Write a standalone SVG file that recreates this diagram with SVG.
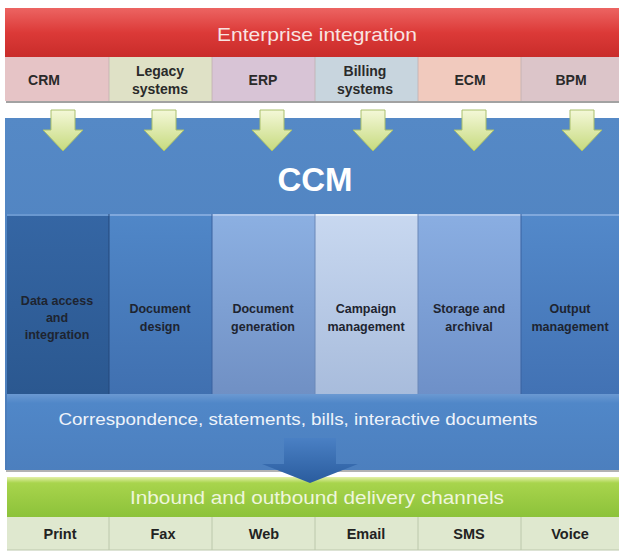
<svg xmlns="http://www.w3.org/2000/svg" width="619" height="552" viewBox="0 0 619 552">
<defs>
<linearGradient id="gRed" x1="0" y1="0" x2="0" y2="1"><stop offset="0" stop-color="#ec6462"/><stop offset="0.5" stop-color="#dc3a38"/><stop offset="1" stop-color="#c92c2a"/></linearGradient>
<linearGradient id="gBlue" x1="0" y1="0" x2="0" y2="1"><stop offset="0" stop-color="#5589c6"/><stop offset="1" stop-color="#4b7cba"/></linearGradient>
<linearGradient id="gBand" x1="0" y1="0" x2="0" y2="1"><stop offset="0" stop-color="#6b99d2"/><stop offset="0.12" stop-color="#5087c8"/><stop offset="1" stop-color="#4c7fbe"/></linearGradient>
<linearGradient id="c1" x1="0" y1="0" x2="0" y2="1"><stop offset="0" stop-color="#3566a4"/><stop offset="1" stop-color="#2b5890"/></linearGradient>
<linearGradient id="c2" x1="0" y1="0" x2="0" y2="1"><stop offset="0" stop-color="#5087c8"/><stop offset="1" stop-color="#4070b0"/></linearGradient>
<linearGradient id="c3" x1="0" y1="0" x2="0" y2="1"><stop offset="0" stop-color="#8cb0e2"/><stop offset="1" stop-color="#7090c4"/></linearGradient>
<linearGradient id="c4" x1="0" y1="0" x2="0" y2="1"><stop offset="0" stop-color="#c8d8f0"/><stop offset="1" stop-color="#a8bcdc"/></linearGradient>
<linearGradient id="c5" x1="0" y1="0" x2="0" y2="1"><stop offset="0" stop-color="#8aaee2"/><stop offset="1" stop-color="#6e90c8"/></linearGradient>
<linearGradient id="c6" x1="0" y1="0" x2="0" y2="1"><stop offset="0" stop-color="#5389ca"/><stop offset="1" stop-color="#4272b4"/></linearGradient>
<linearGradient id="gGreen" x1="0" y1="0" x2="0" y2="1"><stop offset="0" stop-color="#e4f0a8"/><stop offset="0.15" stop-color="#a8d44c"/><stop offset="1" stop-color="#8cc23a"/></linearGradient>
<linearGradient id="gArrow" x1="0" y1="0" x2="0" y2="1"><stop offset="0" stop-color="#f4f8d8"/><stop offset="1" stop-color="#c6da7e"/></linearGradient>
<linearGradient id="gBig" x1="0" y1="0" x2="0" y2="1"><stop offset="0" stop-color="#4a80c4"/><stop offset="1" stop-color="#2a5c9e"/></linearGradient>
<style>
.sub{font-family:"Liberation Sans",Arial,sans-serif;font-weight:bold;font-size:14px;fill:#2a2a2a;text-anchor:middle}
.col{font-family:"Liberation Sans",Arial,sans-serif;font-weight:bold;font-size:12.5px;fill:#1e2430;text-anchor:middle}
.bot{font-family:"Liberation Sans",Arial,sans-serif;font-weight:bold;font-size:14.5px;fill:#222;text-anchor:middle}
.hdr{font-family:"Liberation Sans",Arial,sans-serif;text-anchor:middle}
.sep{stroke:#ffffff;stroke-opacity:0.35;stroke-width:1}
.arr{fill:url(#gArrow);stroke:#a9bf6c;stroke-width:1}
</style>
</defs>

<!-- shadows -->
<rect x="6" y="60" width="613" height="43" fill="#555" opacity="0.55"/>
<rect x="6" y="120" width="613" height="352" fill="#666" opacity="0.5"/>

<g id="enterprise">
<rect x="5" y="8" width="614" height="49" fill="url(#gRed)"/>
<text class="hdr" x="317" y="41" font-size="19" fill="#f8e4e2" textLength="200" lengthAdjust="spacingAndGlyphs">Enterprise integration</text>
</g>
<g id="crm"><rect x="5" y="57" width="104" height="44" fill="#e6c4c6"/><text class="sub" x="44" y="85">CRM</text></g>
<g id="legacy"><rect x="109" y="57" width="103" height="44" fill="#dfe1c6"/><text class="sub" x="160" y="76">Legacy</text><text class="sub" x="160" y="94">systems</text></g>
<g id="erp"><rect x="212" y="57" width="103" height="44" fill="#d8c4d6"/><text class="sub" x="263" y="85">ERP</text></g>
<g id="billing"><rect x="315" y="57" width="103" height="44" fill="#c8d5de"/><text class="sub" x="365" y="76">Billing</text><text class="sub" x="365" y="94">systems</text></g>
<g id="ecm"><rect x="418" y="57" width="103" height="44" fill="#f1cabe"/><text class="sub" x="470" y="85">ECM</text></g>
<g id="bpm"><rect x="521" y="57" width="98" height="44" fill="#dcc5c9"/><text class="sub" x="571" y="85">BPM</text></g>

<g id="ccm">
<rect x="5" y="118" width="614" height="352" fill="url(#gBlue)"/>
<text class="hdr" x="315" y="191" font-size="33" font-weight="bold" fill="#ffffff">CCM</text>
</g>

<g id="data-access"><rect x="7" y="214" width="102" height="180" fill="url(#c1)"/><rect x="7" y="214" width="102" height="2" fill="#6a98d0"/><text class="col" x="57" y="305">Data access</text><text class="col" x="57" y="322">and</text><text class="col" x="57" y="339">integration</text></g>
<g id="doc-design"><rect x="109" y="214" width="103" height="180" fill="url(#c2)"/><rect x="109" y="214" width="103" height="2" fill="#80a8dc"/><text class="col" x="160" y="313">Document</text><text class="col" x="160" y="331">design</text></g>
<g id="doc-generation"><rect x="212" y="214" width="103" height="180" fill="url(#c3)"/><rect x="212" y="214" width="103" height="2" fill="#b0c8ec"/><text class="col" x="263" y="313">Document</text><text class="col" x="263" y="331">generation</text></g>
<g id="campaign"><rect x="315" y="214" width="103" height="180" fill="url(#c4)"/><rect x="315" y="214" width="103" height="2" fill="#e6eef8"/><text class="col" x="366" y="313">Campaign</text><text class="col" x="366" y="331">management</text></g>
<g id="storage"><rect x="418" y="214" width="103" height="180" fill="url(#c5)"/><rect x="418" y="214" width="103" height="2" fill="#b0c8ec"/><text class="col" x="469" y="313">Storage and</text><text class="col" x="469" y="331">archival</text></g>
<g id="output"><rect x="521" y="214" width="98" height="180" fill="url(#c6)"/><rect x="521" y="214" width="98" height="2" fill="#80a8dc"/><text class="col" x="570" y="313">Output</text><text class="col" x="570" y="331">management</text></g>
<g id="col-separators">
<line x1="109" y1="214" x2="109" y2="394" stroke="#24487a" stroke-width="1"/>
<line x1="212" y1="214" x2="212" y2="394" stroke="#3a62a0" stroke-width="1"/>
<line x1="315" y1="214" x2="315" y2="394" stroke="#6a88b8" stroke-width="1"/>
<line x1="418" y1="214" x2="418" y2="394" stroke="#6a88b8" stroke-width="1"/>
<line x1="521" y1="214" x2="521" y2="394" stroke="#3a62a0" stroke-width="1"/>
</g>

<g id="correspondence">
<rect x="7" y="394" width="612" height="76" fill="url(#gBand)"/>
<text class="hdr" x="298" y="425" font-size="17" fill="#eef3fa" textLength="479" lengthAdjust="spacingAndGlyphs">Correspondence, statements,  bills, interactive documents</text>
</g>

<g id="delivery">
<rect x="7" y="477" width="612" height="40" fill="url(#gGreen)"/>
<text class="hdr" x="317" y="504" font-size="18" fill="#eef6dc" textLength="374" lengthAdjust="spacingAndGlyphs">Inbound and outbound delivery channels</text>
</g>
<g id="print"><rect x="7" y="517" width="102" height="33" fill="#dfe8cf"/><text class="bot" x="60" y="539">Print</text></g>
<g id="fax"><rect x="109" y="517" width="103" height="33" fill="#dfe8cf"/><text class="bot" x="163" y="539">Fax</text></g>
<g id="web"><rect x="212" y="517" width="103" height="33" fill="#dfe8cf"/><text class="bot" x="264" y="539">Web</text></g>
<g id="email"><rect x="315" y="517" width="103" height="33" fill="#dfe8cf"/><text class="bot" x="366" y="539">Email</text></g>
<g id="sms"><rect x="418" y="517" width="103" height="33" fill="#dfe8cf"/><text class="bot" x="469" y="539">SMS</text></g>
<g id="voice"><rect x="521" y="517" width="98" height="33" fill="#dfe8cf"/><text class="bot" x="570" y="539">Voice</text></g>
<g id="row-separators" stroke="#bcc8ac" stroke-width="1">
<line x1="109" y1="517" x2="109" y2="550"/><line x1="212" y1="517" x2="212" y2="550"/><line x1="315" y1="517" x2="315" y2="550"/><line x1="418" y1="517" x2="418" y2="550"/><line x1="521" y1="517" x2="521" y2="550"/>
<line x1="7" y1="550" x2="619" y2="550"/>
</g>
<g id="sub-separators" stroke="#c0b0b0" stroke-width="0.8">
<line x1="109" y1="57" x2="109" y2="101"/><line x1="212" y1="57" x2="212" y2="101"/><line x1="315" y1="57" x2="315" y2="101"/><line x1="418" y1="57" x2="418" y2="101"/><line x1="521" y1="57" x2="521" y2="101"/>
</g>

<g id="connectors">
<path class="arr" d="M51,110 H75 V130 H83 L63,151 L43,130 H51 Z"/>
<path class="arr" d="M152,110 H176 V130 H184 L164,151 L144,130 H152 Z"/>
<path class="arr" d="M260,110 H284 V130 H292 L272,151 L252,130 H260 Z"/>
<path class="arr" d="M361,110 H385 V130 H393 L373,151 L353,130 H361 Z"/>
<path class="arr" d="M462,110 H486 V130 H494 L474,151 L454,130 H462 Z"/>
<path class="arr" d="M570,110 H594 V130 H602 L582,151 L562,130 H570 Z"/>
<path d="M284,438 H336 V464 H358 L310,483 L262,464 H284 Z" fill="url(#gBig)"/>
</g>
</svg>
